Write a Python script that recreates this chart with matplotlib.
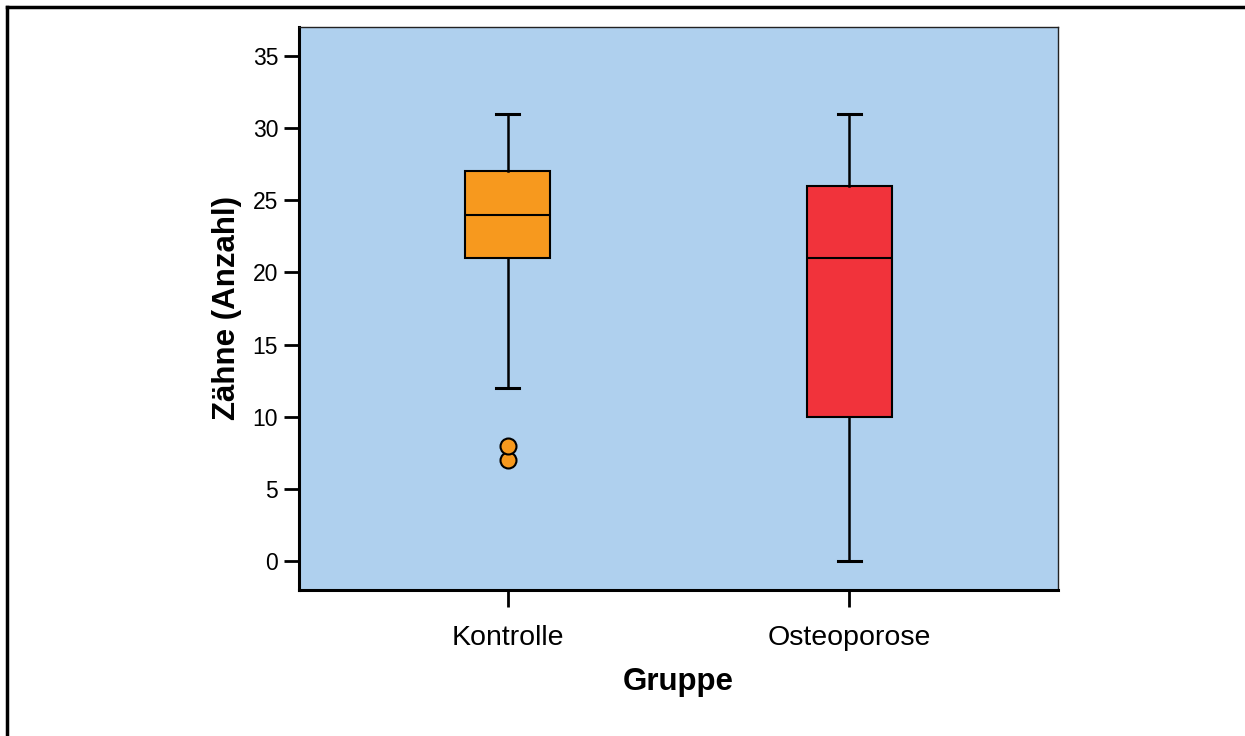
import matplotlib.pyplot as plt
from matplotlib.lines import Line2D

plt.rcParams['font.family'] = ['Liberation Sans', 'DejaVu Sans']

# five-number summaries per group, read from the SPSS output
groups = ['Kontrolle', 'Osteoporose']
whisker_low = [12, 0]
q1 = [21, 10]
median = [24, 21]
q3 = [27, 26]
whisker_high = [31, 31]
outliers = [[7, 8], []]
box_colors = ['#F7991E', '#F1333B']


def build_stats():
    stats = []
    for i, name in enumerate(groups):
        stats.append({
            'label': name,
            'whislo': whisker_low[i],
            'q1': q1[i],
            'med': median[i],
            'q3': q3[i],
            'whishi': whisker_high[i],
            'fliers': outliers[i],
        })
    return stats


fig = plt.figure(figsize=(12.45, 7.36), dpi=100)
ax = fig.add_axes([0.2402, 0.1984, 0.6096, 0.7649])
ax.set_facecolor('#AFD0EE')

positions = [1, 2]
bp = ax.bxp(build_stats(), positions=positions, widths=0.25, patch_artist=True,
            capwidths=0.065,
            boxprops=dict(linewidth=1.5, edgecolor='black'),
            medianprops=dict(color='black', linewidth=1.5),
            whiskerprops=dict(color='black', linewidth=1.8),
            capprops=dict(color='black', linewidth=2.2),
            flierprops=dict(marker='o', markersize=11.5, markeredgecolor='black',
                            markeredgewidth=1.5))
for patch, flier, col in zip(bp['boxes'], bp['fliers'], box_colors):
    patch.set_facecolor(col)
    flier.set_markerfacecolor(col)

ax.set_xlim(0.39, 2.61)
ax.set_ylim(-2, 37)
ax.set_yticks(range(0, 36, 5))
ax.set_xticks(positions)
ax.set_xticklabels(groups)

ax.tick_params(axis='y', labelsize=16.5, length=11, width=2, pad=4)
ax.tick_params(axis='x', labelsize=20.5, length=12, width=2, pad=13)

for side in ['left', 'bottom']:
    ax.spines[side].set_linewidth(2.2)
for side in ['top', 'right']:
    ax.spines[side].set_linewidth(1.0)
    ax.spines[side].set_color('#222222')

ax.set_xlabel('Gruppe', fontsize=22.5, fontweight='bold', labelpad=12)
ax.set_ylabel('Zähne (Anzahl)', fontsize=22.5, fontweight='bold', labelpad=8)

# frame lines of the exported chart panel (top and left only)
fig.add_artist(Line2D([7 / 1245, 1], [1 - 7 / 736, 1 - 7 / 736],
                      transform=fig.transFigure, color='black', linewidth=2.5))
fig.add_artist(Line2D([7 / 1245, 7 / 1245], [0, 1 - 7 / 736],
                      transform=fig.transFigure, color='black', linewidth=2.5))

fig.savefig('out.png', dpi=100)
